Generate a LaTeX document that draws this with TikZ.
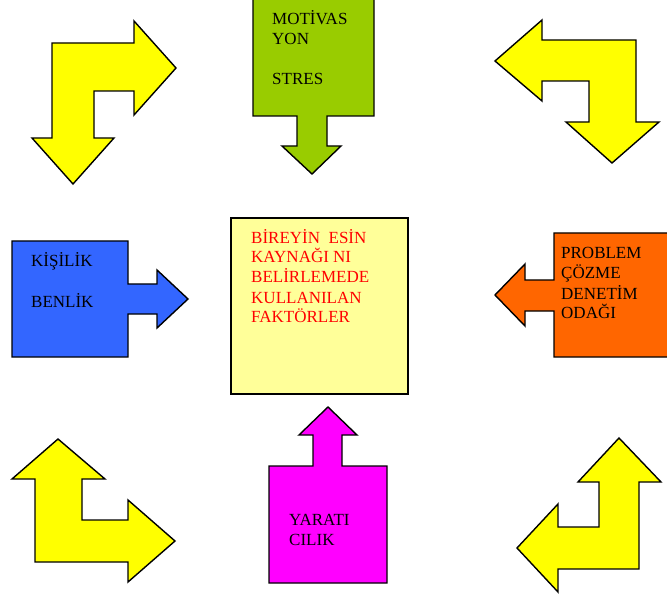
\documentclass[tikz,border=0pt]{standalone}
\usepackage{fontspec}
\setmainfont{Liberation Serif}
\usepackage{xcolor}
\definecolor{okyellow}{HTML}{FFFF00}
\definecolor{boxyellow}{HTML}{FFFF99}
\definecolor{motgreen}{HTML}{99CC00}
\definecolor{kisblue}{HTML}{3366FF}
\definecolor{proborange}{HTML}{FF6600}
\definecolor{yarmagenta}{HTML}{FF00FF}
\tikzset{
  shapeline/.style={draw=black,line width=1.4pt,line join=miter},
  lbl/.style={anchor=base west,inner sep=0pt,align=left,font=\fontsize{17}{20}\selectfont}
}

\begin{document}
\begin{tikzpicture}[x=1pt,y=-1pt]
                \useasboundingbox (0,0) rectangle (667,596);
                % bent arrows in the corners
                \draw[shapeline,fill=okyellow] (52,43) -- (134,43) -- (134,21) -- (176,68) -- (134,115) -- (134,91) -- (94,91) -- (94,138) -- (114,138) -- (73,184) -- (32,138) -- (52,138) -- cycle;
                \draw[shapeline,fill=okyellow] (542,20) -- (542,40) -- (636,40) -- (636,122) -- (659,122) -- (612,163) -- (566,122) -- (589,122) -- (589,81) -- (542,81) -- (542,101) -- (495,61) -- cycle;
                \draw[shapeline,fill=okyellow] (58,439) -- (105,479) -- (82,479) -- (82,520) -- (128,520) -- (128,500) -- (175,541) -- (128,582) -- (128,562) -- (35,562) -- (35,479) -- (12,479) -- cycle;
                \draw[shapeline,fill=okyellow] (619,438) -- (661,482) -- (639,482) -- (639,569) -- (558,569) -- (558,592) -- (517,548) -- (558,504) -- (558,527) -- (599,527) -- (599,482) -- (578,482) -- cycle;
                % boxes with arrows
                \draw[shapeline,fill=motgreen] (253,-5) -- (374,-5) -- (374,116) -- (327,116) -- (327,146) -- (341,146) -- (312,174) -- (282,146) -- (297,146) -- (297,116) -- (253,116) -- cycle;
                \draw[shapeline,fill=kisblue] (12,241) -- (128,241) -- (128,284) -- (157,284) -- (157,270) -- (188,299) -- (157,328) -- (157,314) -- (128,314) -- (128,357) -- (12,357) -- cycle;
                \draw[shapeline,fill=proborange] (554,233) -- (680,233) -- (680,357) -- (554,357) -- (554,311) -- (525,311) -- (525,326) -- (495,295) -- (525,264) -- (525,280) -- (554,280) -- cycle;
                \draw[shapeline,fill=yarmagenta] (269,466) -- (313,466) -- (313,435) -- (299,435) -- (328,407) -- (357,435) -- (342,435) -- (342,466) -- (387,466) -- (387,583) -- (269,583) -- cycle;
                \draw[shapeline,fill=boxyellow] (231,218) rectangle (408,394);
                % labels (anchored at the last line)
                \node[lbl] (motiv) at (272,85) {MOTİVAS\\YON\\[20pt]STRES};
                \node[lbl] (kisilik) at (31,307) {KİŞİLİK\\[20pt]BENLİK};
                \node[lbl,text=red] (baslik) at (251,323) {BİREYİN\ \ ESİN\\KAYNAĞI NI\\BELİRLEMEDE\\KULLANILAN\\FAKTÖRLER};
                \node[lbl] (problem) at (561,319) {PROBLEM\\ÇÖZME\\DENETİM\\ODAĞI};
                \node[lbl] (yaratici) at (289,545) {YARATI\\CILIK};
              \end{tikzpicture}
\end{document}
